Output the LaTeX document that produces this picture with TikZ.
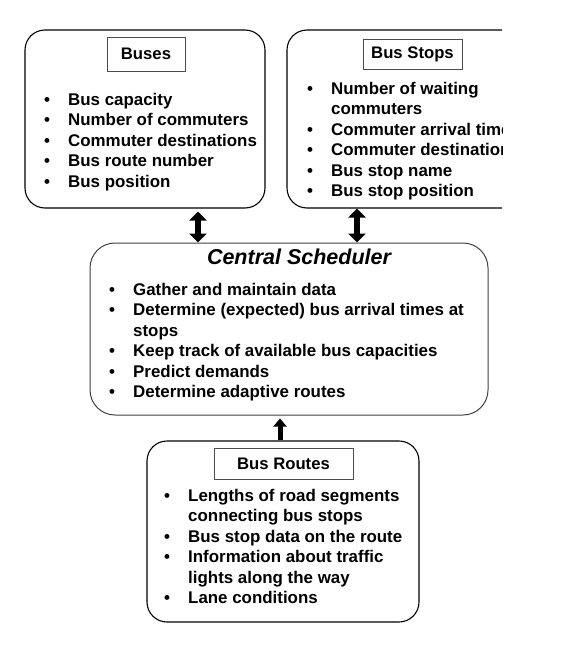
\documentclass[tikz,border=0pt]{standalone}
\usepackage{fontspec}
\setmainfont{Liberation Sans}
\usetikzlibrary{positioning,arrows.meta}
\newcommand\bitem{\makebox[24pt][l]{\textbullet}}
\newcommand\bindent{\hspace*{24pt}}

\begin{document}
\begin{tikzpicture}[x=1pt,y=-1pt,
    panel/.style={draw=black, line width=1.1pt, rounded corners=20pt, inner sep=0pt},
    titlebox/.style={draw=black!70, line width=0.7pt, inner sep=0pt,
                     font={\fontsize{16.7}{20}\selectfont\bfseries}},
    itemlist/.style={inner sep=0pt, anchor=north west, align=left,
                     font={\fontsize{16.9}{20.5}\selectfont\bfseries}},
    dblarrow/.style={line width=6pt, {Triangle[width=17pt,length=9pt]}-{Triangle[width=17pt,length=9pt]}},
    uparrow/.style={line width=5pt, -{Triangle[width=13pt,length=8pt]}},]

    \useasboundingbox (0,0) rectangle (577,656);

    % data sources
    \node[panel, minimum width=240pt, minimum height=178pt] (buses) at (145,119) {};
    \node[titlebox, minimum width=78pt, minimum height=34pt] (busestitle) at (146,54) {Buses};
    \node[itemlist] (buseslist) at (44,93)
        {\bitem Bus capacity\\ \bitem Number of commuters\\ \bitem Commuter destinations\\
         \bitem Bus route number\\ \bitem Bus position};

    \begin{scope}
      \clip (0,0) rectangle (502,656);
      \node[panel, minimum width=240pt, minimum height=178pt] (stops) at (407,119) {};
      \node[titlebox, minimum width=99pt, minimum height=30pt] (stopstitle) at (412.5,54) {Bus Stops};
      \node[itemlist] (stopslist) at (307,82)
          {\bitem Number of waiting\\ \bindent commuters\\ \bitem Commuter arrival times\\
           \bitem Commuter destinations\\ \bitem Bus stop name\\ \bitem Bus stop position};
    \end{scope}

    % scheduler
    \node[panel, draw=black!75, line width=1pt, rounded corners=25pt,
          minimum width=398pt, minimum height=172pt] (sched) at (289,329) {};
    \node[anchor=base, inner sep=0pt, font={\fontsize{21.5}{24}\selectfont\bfseries\itshape}]
        (schedtitle) at (299,264) {Central Scheduler};
    \node[itemlist] (schedlist) at (109,283)
        {\bitem Gather and maintain data\\ \bitem Determine (expected) bus arrival times at\\
         \bindent stops\\ \bitem Keep track of available bus capacities\\
         \bitem Predict demands\\ \bitem Determine adaptive routes};

    % routes
    \node[panel, minimum width=272pt, minimum height=181pt] (routes) at (283,531.5) {};
    \node[titlebox, minimum width=139pt, minimum height=31pt] (routestitle) at (283.5,463.5) {Bus Routes};
    \node[itemlist] (routeslist) at (164,489)
        {\bitem Lengths of road segments\\ \bindent connecting bus stops\\
         \bitem Bus stop data on the route\\ \bitem Information about traffic\\
         \bindent lights along the way\\ \bitem Lane conditions};

    \coordinate (leftcol) at (198,0);
    \coordinate (rightcol) at (357,0);
    \coordinate (upcol) at (280,0);

    \draw[dblarrow, shorten <=3pt] (buses.south -| leftcol) -- (sched.north -| leftcol);
    \draw[dblarrow] (stops.south -| rightcol) -- (sched.north -| rightcol);
    \draw[uparrow, shorten >=3pt] (routes.north -| upcol) -- (sched.south -| upcol);

\end{tikzpicture}
\end{document}
